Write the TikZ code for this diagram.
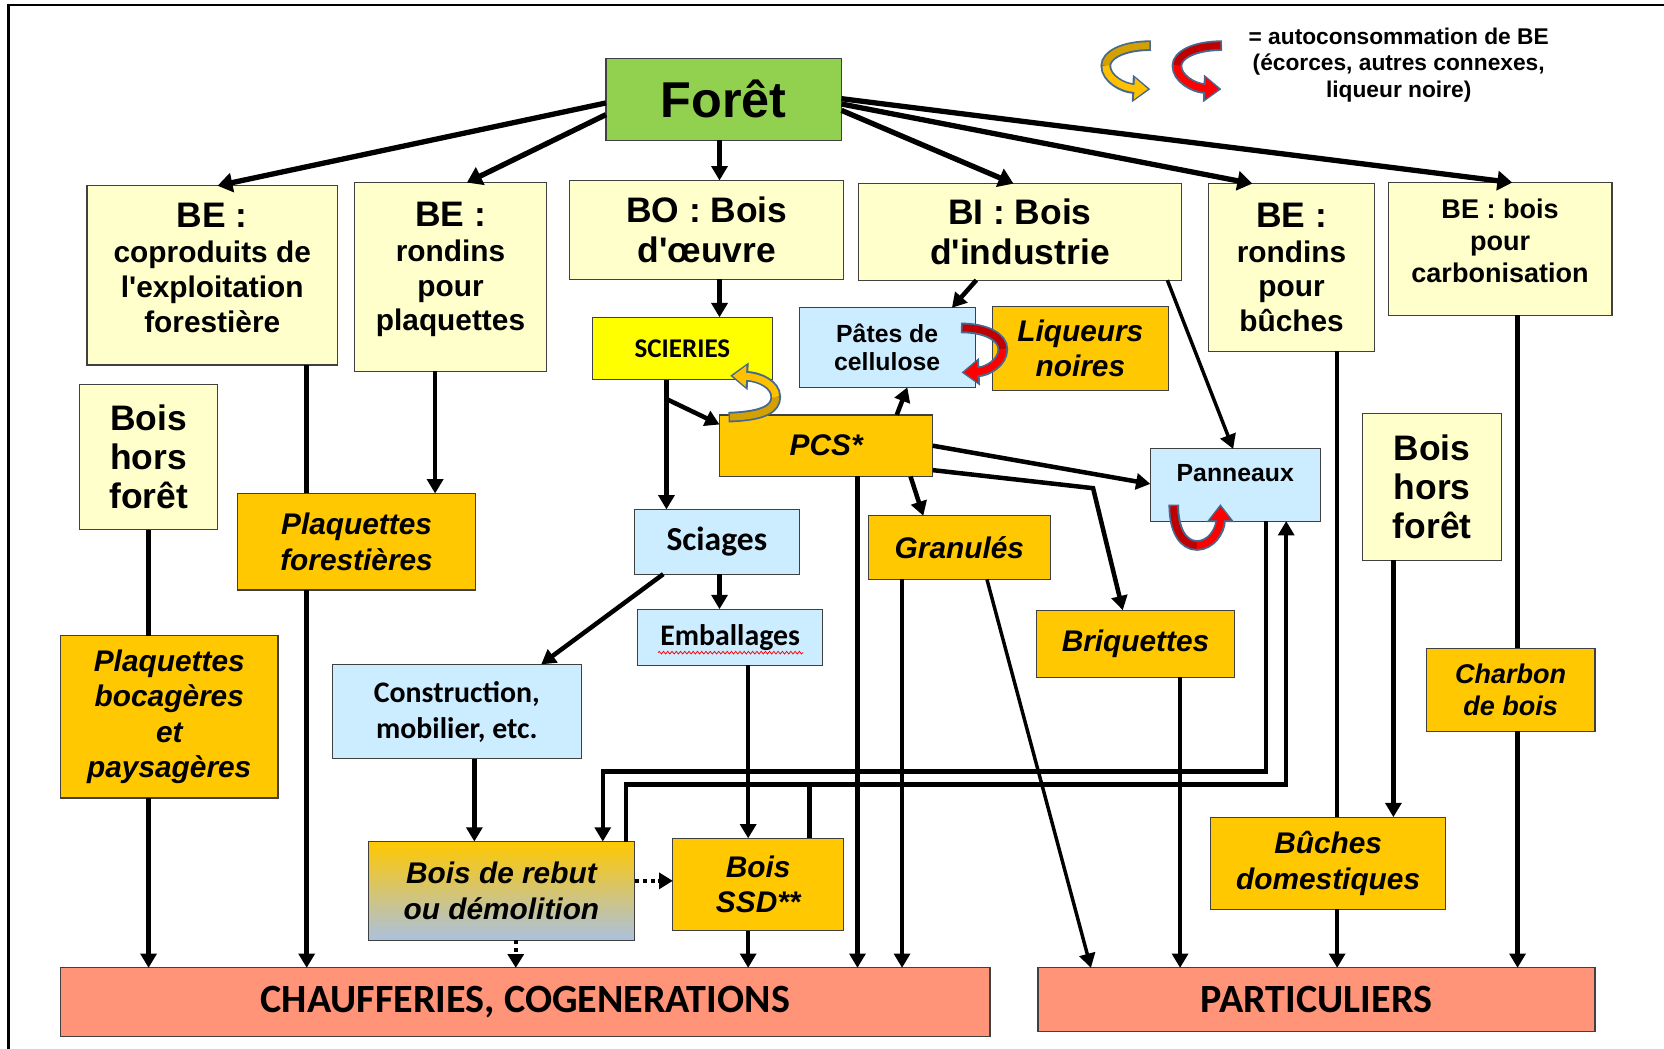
\documentclass[tikz,border=0pt]{standalone}
\usepackage{fontspec}
\setmainfont{Liberation Sans}
\newfontfamily\calibri{Carlito}
\usetikzlibrary{positioning, arrows.meta, decorations.pathmorphing}
\usepackage{xcolor}

\definecolor{creme}{HTML}{FFFFCC}
\definecolor{ora}{HTML}{FFC800}
\definecolor{bleu}{HTML}{CCECFF}
\definecolor{saumon}{HTML}{FF9478}
\definecolor{vert}{HTML}{92D050}
\definecolor{jaune}{HTML}{FFFF00}
\definecolor{rebutbas}{HTML}{ABC1E0}
\definecolor{bordloop}{HTML}{46698F}
\definecolor{orfonce}{HTML}{D4A000}
\definecolor{orclair}{HTML}{FFC000}
\definecolor{rgfonce}{HTML}{C00000}
\definecolor{rgclair}{HTML}{FF0000}

\tikzset{
  boite/.style={draw=black!75, line width=0.6pt, inner sep=0pt, outer sep=0pt, align=center},
  cremebox/.style={boite, fill=creme, font=\bfseries\fontsize{16}{18.7}\selectfont},
  orabox/.style={boite, fill=ora, font=\bfseries\itshape\fontsize{16}{19}\selectfont},
  bluebox/.style={boite, fill=bleu, font=\calibri\bfseries\fontsize{16}{19.3}\selectfont},
  endbox/.style={boite, fill=saumon, font=\calibri\bfseries\fontsize{21.5}{24}\selectfont},
  flow/.style={line width=0.085cm, -{Triangle[length=0.27cm, width=0.3cm]}},
  bigflow/.style={line width=0.1cm, -{Triangle[length=0.28cm, width=0.36cm]}},
  link/.style={line width=0.085cm},
  dotflow/.style={line width=0.08cm, dash pattern=on 0.08cm off 0.07cm, -{Triangle[length=0.26cm, width=0.3cm]}},
  loopedge/.style={draw=bordloop, line width=0.2cm, shorten <=-0.03cm, -{Triangle[length=0.34cm, width=0.5cm]}},
  loopfill/.style={line width=0.13cm},
  looptip/.style={shorten >=0.05cm, -{Triangle[length=0.25cm, width=0.38cm]}}
}

% curved arrow of self-consumption: dark colour, light colour, first half, middle point, second half
\newcommand\autoloop[5]{%
  \draw[loopedge] #3 #4 #5;
  \draw[loopfill, #1] #3 #4;
  \draw[loopfill, #2, looptip] #4 #5;
}

\begin{document}
\begin{tikzpicture}[x=0.02cm, y=-0.02cm]
        \useasboundingbox (0,0) rectangle (1568,988);
        \draw[line width=0.04cm] (8,995) -- (8,5) -- (1575,5);

        % Nodes
        \node[boite, fill=vert, minimum width=4.44cm, minimum height=1.54cm, font=\bfseries\fontsize{27}{30}\selectfont] (foret) at (682,93.5) {Forêt};

        \node[cremebox, minimum width=4.72cm, minimum height=3.38cm, text depth=0.28cm] (be1) at (200,259.5) {{\fontsize{19}{21}\selectfont BE :}\\coproduits de\\l\textquotesingle exploitation\\forestière};
        \node[cremebox, minimum width=3.62cm, minimum height=3.56cm, text depth=0.4cm] (be2) at (424.5,261) {{\fontsize{19}{21}\selectfont BE :}\\rondins\\pour\\plaquettes};
        \node[cremebox, minimum width=5.16cm, minimum height=1.86cm, font=\bfseries\fontsize{19}{21}\selectfont] (bo) at (666,216.5) {BO : Bois\\d\textquotesingle œuvre};
        \node[cremebox, minimum width=6.08cm, minimum height=1.82cm, font=\bfseries\fontsize{19}{21}\selectfont] (bi) at (961,218.5) {BI : Bois\\d\textquotesingle industrie};
        \node[cremebox, minimum width=3.12cm, minimum height=3.16cm] (be3) at (1217,252) {{\fontsize{19}{21}\selectfont BE :}\\rondins\\pour\\bûches};
        \node[cremebox, minimum width=4.22cm, minimum height=2.5cm, text depth=0.3cm, font=\bfseries\fontsize{14.5}{17.3}\selectfont] (be4) at (1413.5,234.5) {BE : bois\\pour\\carbonisation};
        \node[cremebox, minimum width=2.6cm, minimum height=2.74cm, font=\bfseries\fontsize{19}{21}\selectfont] (hfl) at (140,430.5) {Bois\\hors\\forêt};
        \node[cremebox, minimum width=2.62cm, minimum height=2.76cm, font=\bfseries\fontsize{19}{21}\selectfont] (hfr) at (1349.5,459) {Bois\\hors\\forêt};

        \node[orabox, minimum width=4.48cm, minimum height=1.82cm] (pfor) at (336,510.5) {Plaquettes\\forestières};
        \node[orabox, minimum width=4.1cm, minimum height=3.06cm] (pboc) at (159.5,675.5) {Plaquettes\\bocagères\\et\\paysagères};
        \node[orabox, minimum width=3.32cm, minimum height=1.58cm] (liq) at (1018,328.5) {Liqueurs\\noires};
        \node[orabox, minimum width=4.02cm, minimum height=1.16cm] (pcs) at (778.5,420) {PCS*};
        \node[orabox, minimum width=3.44cm, minimum height=1.2cm] (gran) at (904,516) {Granulés};
        \node[orabox, minimum width=3.72cm, minimum height=1.26cm] (briq) at (1070,606.5) {Briquettes};
        \node[orabox, minimum width=3.22cm, minimum height=1.74cm] (ssd) at (714.5,833.5) {Bois\\SSD**};
        \node[orabox, top color=ora, middle color=ora!94!rebutbas, bottom color=rebutbas, minimum width=5.02cm, minimum height=1.86cm] (rebut) at (472.5,839.5) {Bois de rebut\\ou démolition};
        \node[orabox, minimum width=3.18cm, minimum height=1.56cm, font=\bfseries\itshape\fontsize{14.5}{17}\selectfont] (charb) at (1423.5,650) {Charbon\\de bois};
        \node[orabox, minimum width=4.42cm, minimum height=1.74cm] (buch) at (1251.5,813.5) {Bûches\\domestiques};

        \node[boite, fill=jaune, minimum width=3.4cm, minimum height=1.18cm, font=\calibri\bfseries\fontsize{14.5}{17}\selectfont] (scie) at (643,328.5) {SCIERIES};
        \node[bluebox, minimum width=3.32cm, minimum height=1.5cm, font=\bfseries\fontsize{13.3}{15.3}\selectfont] (pate) at (836,327.5) {Pâtes de\\cellulose};
        \node[bluebox, minimum width=3.2cm, minimum height=1.36cm, text depth=0.44cm, font=\bfseries\fontsize{13.3}{15.3}\selectfont] (pann) at (1164,457) {Panneaux};
        \node[bluebox, minimum width=3.1cm, minimum height=1.22cm, font=\calibri\bfseries\fontsize{18}{21}\selectfont] (sciag) at (675.5,510.5) {Sciages};
        \node[bluebox, minimum width=3.48cm, minimum height=1.06cm] (emb) at (688,600.5) {Emballages};
        \node[bluebox, minimum width=4.7cm, minimum height=1.78cm] (constr) at (430.5,670.5) {Construction,\\mobilier, etc.};

        \node[endbox, minimum width=17.52cm, minimum height=1.3cm] (chauf) at (495,944.5) {CHAUFFERIES, COGENERATIONS};
        \node[endbox, minimum width=10.5cm, minimum height=1.2cm] (part) at (1240.5,942) {PARTICULIERS};

        \node[align=center, font=\bfseries\fontsize{12.2}{14.2}\selectfont] (legende) at (1318,61) {= autoconsommation de BE\\(écorces, autres connexes,\\liqueur noire)};

        % Edges
        \draw[bigflow] (foret.west |- 0,97) -- (be1.north -| 205,0);
        \draw[bigflow] (foret.west |- 0,108) -- (be2.north -| 440,0);
        \draw[flow] (foret.south -| 678,0) -- (bo.north -| 678,0);
        \draw[bigflow] (foret.east |- 0,104) -- (bi.north -| 955,0);
        \draw[bigflow] (foret.east |- 0,98) -- (be3.north -| 1180,0);
        \draw[bigflow] (foret.east |- 0,93) -- (be4.north -| 1425,0);

        \draw[flow] (bo.south -| 678,0) -- (scie.north -| 678,0);
        \draw[flow] (bi.south -| 920,0) -- (pate.north -| 897,0);
        \draw[flow, line width=0.065cm] (bi.south -| 1100,0) -- (pann.north -| 1162,0);
        \draw[flow] (be2.south -| 410,0) -- (pfor.north -| 410,0);
        \draw[link] (be1.south -| 289,0) -- (pfor.north -| 289,0);
        \draw[flow] (pfor.south -| 289,0) -- (chauf.north -| 289,0);
        \draw[link] (hfl.south) -- (pboc.north -| hfl.south);
        \draw[flow] (pboc.south -| hfl.south) -- (chauf.north -| hfl.south);

        \draw[flow] (scie.south -| 628,0) -- (sciag.north -| 628,0);
        \coordinate (sbranch) at (628,376);
        \draw[flow] (sbranch) -- (pcs.west |- 0,400);
        \draw[flow] (pcs.north -| 845,0) -- (pate.south -| 855,0);
        \draw[flow] (pcs.east |- 0,420) -- (pann.west |- 0,456);
        \draw[flow] (pcs.east |- 0,443) -- (1030,460) -- (briq.north -| 1058,0);
        \draw[flow] (pcs.south -| 858,0) -- (gran.north -| 870,0);
        \draw[flow] (pcs.south -| 808,0) -- (chauf.north -| 808,0);
        \draw[flow] (gran.south -| 850,0) -- (chauf.north -| 850,0);
        \draw[flow, line width=0.065cm] (gran.south -| 930,0) -- (part.north -| 1028,0);
        \draw[flow] (briq.south -| 1112,0) -- (part.north -| 1112,0);

        \draw[link] (be3.south -| 1260,0) -- (buch.north -| 1260,0);
        \draw[flow] (buch.south -| 1260,0) -- (part.north -| 1260,0);
        \draw[flow] (hfr.south -| 1313,0) -- (buch.north -| 1313,0);
        \draw[link] (be4.south -| 1430,0) -- (charb.north -| 1430,0);
        \draw[flow] (charb.south -| 1430,0) -- (part.north -| 1430,0);

        \draw[flow] (pann.south -| 1193,0) -- (1193,727) -| (rebut.north -| 568,0);
        \draw[flow] (rebut.north -| 590,0) -- (590,739) -| (pann.south -| 1212,0);
        \draw[link] (ssd.north -| 763,0) -- (763,739);

        \draw[flow] (sciag.south -| 625,0) -- (constr.north -| 510,0);
        \draw[flow] (sciag.south -| 678,0) -- (emb.north -| 678,0);
        \draw[flow] (emb.south -| 705,0) -- (ssd.north -| 705,0);
        \draw[flow] (constr.south -| 447,0) -- (rebut.north -| 447,0);
        \draw[dotflow] (rebut.east |- 0,830) -- (ssd.west |- 0,830);
        \draw[dotflow] (rebut.south -| 486,0) -- (chauf.north -| 486,0);
        \draw[flow] (ssd.south -| 705,0) -- (chauf.north -| 705,0);

        % spell-check underline
        \draw[red, line width=0.4pt, decorate, decoration={snake, amplitude=0.025cm, segment length=0.08cm}] (620,615) -- (757,615);

        % Self-consumption arrows
        \autoloop{orfonce}{orclair}{(1083,43) .. controls (1058,43) and (1042,52) ..}{(1042,62)}{.. controls (1042,74) and (1058,83) .. (1084,84)}
        \autoloop{rgfonce}{rgclair}{(1150,43) .. controls (1125,43) and (1109,52) ..}{(1109,62)}{.. controls (1109,74) and (1125,83) .. (1151,84)}
        \autoloop{orfonce}{orclair}{(688,393) .. controls (720,392) and (731,385) ..}{(731,374)}{.. controls (731,362) and (715,355) .. (688,354)}
        \autoloop{rgfonce}{rgclair}{(907,309) .. controls (930,309) and (945,318) ..}{(945,329)}{.. controls (945,342) and (930,350) .. (906,351)}
        \autoloop{rgfonce}{rgclair}{(1106,477) .. controls (1106,500) and (1115,514) ..}{(1128,514)}{.. controls (1141,514) and (1150,500) .. (1150,475)}

    \end{tikzpicture}
\end{document}
